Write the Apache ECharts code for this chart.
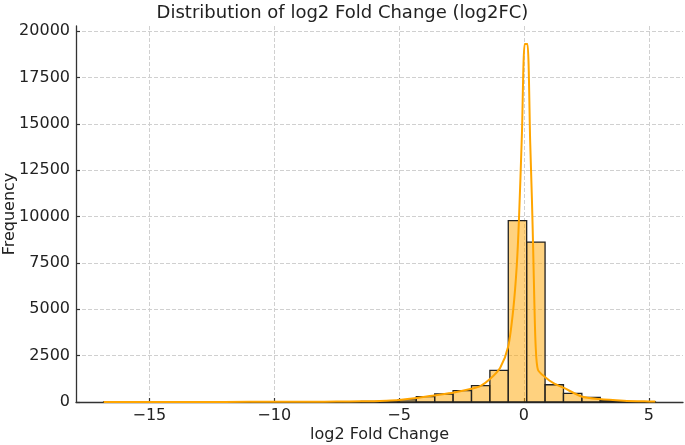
<!DOCTYPE html>
<html><head><meta charset="utf-8">
<script src="https://cdn.jsdelivr.net/npm/echarts@6/dist/echarts.min.js"></script>
<style>html,body{margin:0;padding:0;background:#fff}#c{width:685px;height:445px}</style>
</head><body><div id="c"></div>
<script>
// Histogram bins
const binStart = -16.835;
const binWidth = 0.7367;
const counts = [1,0,0,1,1,1,2,2,3,4,5,8,12,18,30,55,110,285,430,610,880,1710,9780,8620,930,465,250,70,20,5];
// KDE curve (scaled to counts)
const kdeX = [-16.83,-14,-12,-10,-8,-7,-6,-5.5,-5,-4.3,-3.6,-2.8,-2.1,-1.75,-1.35,-0.95,-0.63,-0.43,-0.29,-0.2,-0.08,0.03,0.14,0.25,0.32,0.37,0.42,0.47,0.56,0.84,1.2,1.6,2.3,3.0,4.0,5.0,5.26];
const kdeY = [3,4,6,10,20,30,45,70,110,215,355,517,716,850,1250,1850,2990,4970,7300,9820,14500,19300,19300,14000,10900,8200,5200,3000,1740,1350,1000,760,300,160,70,30,25];
const yTicks = [0,2500,5000,7500,10000,12500,15000,17500,20000];

const FONT = 'DejaVu Sans';
const chart = echarts.init(document.getElementById('c'), null, {renderer:'canvas'});
const binData = counts.map((c,i)=>[binStart+i*binWidth, binStart+(i+1)*binWidth, c]);
const kdeData = kdeX.map((x,i)=>[x, kdeY[i]]);
const minus = v => String(v).replace('-', '\u2212');

chart.setOption({
  animation:false,
  backgroundColor:'#fff',
  title:{text:'Distribution of log2 Fold Change (log2FC)', left:'center', top:-1,
    textStyle:{fontFamily:FONT, fontSize:18, fontWeight:'normal', color:'#222'}},
  grid:{left:76, right:2, top:26, bottom:43, containLabel:false, outerBoundsMode:'none'},
  xAxis:{type:'value', min:-17.94, max:6.37, splitNumber:5,
    name:'log2 Fold Change', nameLocation:'middle', nameGap:25, nameMoveOverlap:false,
    nameTextStyle:{fontFamily:FONT, fontSize:16, color:'#222'},
    axisLine:{show:true, onZero:false, lineStyle:{color:'#333', width:1.3}},
    axisTick:{show:true, inside:true, length:4, lineStyle:{color:'#333', width:1.2}},
    axisLabel:{fontFamily:FONT, fontSize:16, color:'#222', margin:6, showMinLabel:false, showMaxLabel:false,
      formatter:v=> (Math.abs(v % 5) < 1e-9) ? minus(v) : ''},
    splitLine:{show:true, showMinLine:false, showMaxLine:false, lineStyle:{color:'#d0d0d0', type:[4,2], width:1}}
  },
  yAxis:{type:'value', min:0, max:20270, interval:2500,
    name:'Frequency', nameLocation:'middle', nameGap:58, nameMoveOverlap:false,
    nameTextStyle:{fontFamily:FONT, fontSize:16, color:'#222'},
    axisLine:{show:true, onZero:false, lineStyle:{color:'#333', width:1.3}},
    axisTick:{show:true, inside:true, length:4, lineStyle:{color:'#333', width:1.2}},
    axisLabel:{fontFamily:FONT, fontSize:16, color:'#222', margin:6, showMaxLabel:false,
      formatter:v=> yTicks.includes(v) ? String(v) : ''},
    splitLine:{show:true, showMaxLine:false, lineStyle:{color:'#d0d0d0', type:[4,2], width:1}}
  },
  series:[
    {type:'custom', name:'hist', data:binData, encode:{x:[0,1], y:2}, z:2,
      renderItem:(params, api)=>{
        const p0 = api.coord([api.value(0), api.value(2)]);
        const p1 = api.coord([api.value(1), 0]);
        return {type:'rect', shape:{x:p0[0], y:p0[1], width:p1[0]-p0[0], height:p1[1]-p0[1]},
          style:{fill:'rgba(255,165,0,0.5)', stroke:'#222', lineWidth:1.3}};
      }},
    {type:'line', name:'kde', data:kdeData, showSymbol:false, smooth:0.25, z:3,
      lineStyle:{color:'#FFA500', width:2}}
  ]
});
</script></body></html>
